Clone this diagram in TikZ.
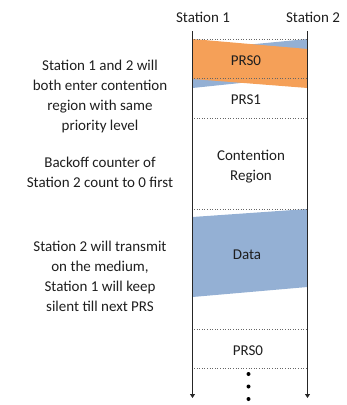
\documentclass[tikz,border=0pt]{standalone}
\usepackage{fontspec}
\setmainfont{Carlito}
\usetikzlibrary{arrows.meta}
\definecolor{prsorange}{RGB}{245,160,88}
\definecolor{prsblue}{RGB}{148,176,212}
\definecolor{txt}{RGB}{30,30,30}
\begin{document}
\begin{tikzpicture}[x=1pt,y=-1pt,
  lbl/.style={font=\fontsize{15}{20}\selectfont, text=txt, align=center, inner sep=0pt},
  timeline/.style={line width=0.9pt, draw=black!85, -{Triangle[width=5pt,length=4pt]}},
  slotline/.style={draw=black!60, line width=0.6pt, dotted},
  dotmark/.style={circle, fill=black, inner sep=0pt, minimum size=4pt}]
\useasboundingbox (0,0) rectangle (347,405);
% station headers
\node[lbl] (s1) at (203,17) {Station 1};
\node[lbl] (s2) at (313,17) {Station 2};
\coordinate (l1) at (192.5,31);
\coordinate (l1e) at (192.5,398);
\coordinate (l2) at (307.5,31);
\coordinate (l2e) at (307.5,398);
% PRS0 bands: station 2 (blue) below, station 1 (orange) on top
\fill[prsblue] (192.5,50) -- (307.5,39) -- (307.5,76) -- (192.5,88) -- cycle;
\fill[prsorange] (192.5,39) -- (307.5,49) -- (307.5,88) -- (192.5,79) -- cycle;
% data band
\fill[prsblue] (192.5,217) -- (307.5,209) -- (307.5,287) -- (192.5,297) -- cycle;
% slot borders
\coordinate (d1a) at (194,39);  \coordinate (d1b) at (307,39);
\coordinate (d2a) at (194,78);  \coordinate (d2b) at (307,78);
\coordinate (d3a) at (194,118); \coordinate (d3b) at (307,118);
\coordinate (d4a) at (194,209); \coordinate (d4b) at (307,209);
\coordinate (d5a) at (194,329); \coordinate (d5b) at (307,329);
\coordinate (d6a) at (194,368); \coordinate (d6b) at (307,368);
\foreach \k in {1,...,6} {\draw[slotline] (d\k a) -- (d\k b);}
% time lines
\draw[timeline] (l1) -- (l1e);
\draw[timeline] (l2) -- (l2e);
% slot labels
\node[lbl] (prs0) at (246,61) {PRS0};
\node[lbl] (prs1) at (246,100) {PRS1};
\node[lbl] (cr) at (251,167) {Contention\\Region};
\node[lbl] (data) at (247,255) {Data};
\node[lbl] (prs0b) at (248,351) {PRS0};
\node[dotmark] (dot1) at (248.5,374) {};
\node[dotmark] (dot2) at (248.5,386.5) {};
\node[dotmark] (dot3) at (248.5,399) {};
% explanations
\node[lbl] (t1) at (100,96) {Station 1 and 2 will\\both enter contention\\region with same\\priority level};
\node[lbl] (t2) at (100,172) {Backoff counter of\\Station 2 count to 0 first};
\node[lbl] (t3) at (100,276) {Station 2 will transmit\\on the medium,\\Station 1 will keep\\silent till next PRS};
\end{tikzpicture}
\end{document}
